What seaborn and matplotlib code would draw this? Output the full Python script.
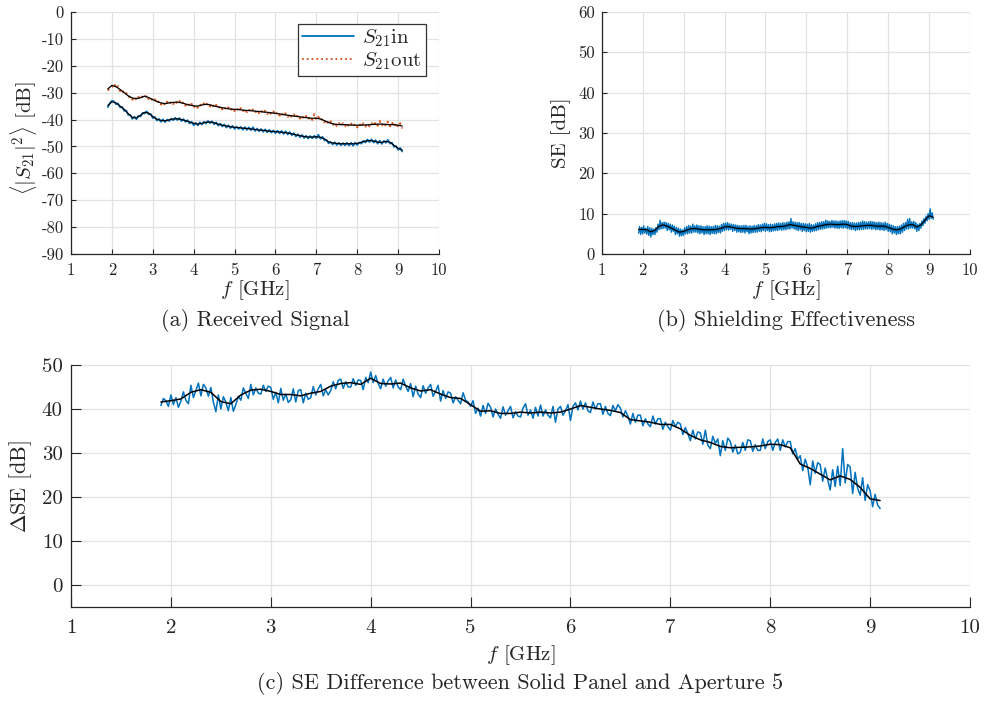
import numpy as np
import matplotlib
matplotlib.use("Agg")
import matplotlib.pyplot as plt
import seaborn as sns

# ---------------------------------------------------------------------------
# Measured data (frequency sweep 1.9 - 9.1 GHz)
# ---------------------------------------------------------------------------
F_START, F_STOP = 1.9, 9.1

X_TICKS = [1, 2, 3, 4, 5, 6, 7, 8, 9, 10]
X_TICK_LABELS = ["1", "2", "3", "4", "5", "6", "7", "8", "9", "10"]

A_Y_TICKS = [0, -10, -20, -30, -40, -50, -60, -70, -80, -90]
A_Y_TICK_LABELS = ["0", "-10", "-20", "-30", "-40", "-50", "-60", "-70", "-80", "-90"]
B_Y_TICKS = [0, 10, 20, 30, 40, 50, 60]
B_Y_TICK_LABELS = ["0", "10", "20", "30", "40", "50", "60"]
C_Y_TICKS = [0, 10, 20, 30, 40, 50]
C_Y_TICK_LABELS = ["0", "10", "20", "30", "40", "50"]

# <|S21|^2> inside the enclosure, raw sweep (dB)
s21_in_raw = [
    -35.4, -33.9, -33.0, -33.2, -34.3, -34.0, -35.5, -35.3, -36.8, -36.6,
    -38.3, -38.2, -39.8, -38.9, -39.9, -38.6, -38.9, -37.5, -37.8, -36.9,
    -38.1, -37.9, -39.5, -39.0, -40.4, -39.7, -40.9, -39.9, -41.0, -40.0,
    -40.6, -39.6, -40.3, -39.3, -40.2, -39.4, -40.6, -39.8, -40.9, -40.2,
    -41.5, -40.8, -42.2, -41.2, -42.2, -41.0, -41.9, -40.8, -41.5, -40.5,
    -41.4, -40.6, -41.8, -41.0, -42.3, -41.5, -42.6, -41.8, -43.0, -42.1,
    -43.2, -42.3, -43.5, -42.6, -43.5, -42.7, -43.8, -42.8, -43.9, -42.9,
    -44.0, -42.8, -44.3, -43.3, -44.4, -43.5, -44.6, -43.6, -44.8, -43.8,
    -44.9, -44.0, -45.1, -44.1, -45.2, -44.2, -45.4, -44.3, -45.6, -44.6,
    -45.9, -45.0, -46.3, -45.4, -46.6, -45.7, -46.9, -46.0, -47.1, -46.1,
    -47.0, -46.0, -47.0, -45.6, -47.2, -46.4, -47.8, -47.6, -48.9, -48.3,
    -49.3, -48.4, -49.5, -48.6, -49.6, -48.7, -49.6, -48.6, -49.7, -48.6,
    -49.8, -48.5, -49.5, -48.5, -49.0, -47.9, -48.6, -47.4, -48.4, -47.3,
    -48.6, -47.6, -49.0, -47.8, -49.1, -47.9, -48.7, -47.5, -49.0, -48.6,
    -50.2, -49.8, -51.3, -50.5, -51.9,
]

# <|S21|^2> outside the enclosure, raw sweep (dB)
s21_out_raw = [
    -29.2, -28.2, -27.9, -26.5, -28.4, -27.6, -29.4, -28.8, -30.6, -30.2,
    -31.8, -31.3, -32.6, -31.6, -32.8, -31.6, -32.4, -31.2, -31.9, -30.9,
    -32.4, -31.8, -33.2, -32.5, -33.9, -33.0, -34.4, -33.5, -34.7, -33.4,
    -34.4, -33.2, -34.2, -33.0, -34.1, -33.1, -34.4, -33.4, -34.8, -33.8,
    -35.2, -34.2, -35.6, -34.5, -35.6, -34.3, -35.2, -34.0, -34.9, -33.8,
    -35.1, -34.2, -35.6, -34.6, -35.9, -34.9, -36.2, -35.2, -36.5, -35.5,
    -36.7, -35.6, -36.8, -35.7, -36.9, -35.8, -37.1, -36.0, -37.2, -36.1,
    -37.3, -36.3, -37.5, -36.4, -37.6, -36.5, -37.8, -36.7, -37.9, -36.8,
    -38.1, -37.0, -38.3, -37.2, -38.5, -37.4, -38.8, -37.7, -39.0, -37.9,
    -39.2, -38.1, -39.4, -38.3, -39.6, -38.5, -39.8, -38.7, -40.0, -38.9,
    -40.1, -38.0, -40.1, -39.0, -40.4, -39.6, -41.0, -40.2, -41.7, -40.7,
    -42.2, -41.1, -42.4, -41.3, -42.5, -41.4, -42.5, -41.3, -42.6, -41.5,
    -42.7, -41.6, -42.9, -41.5, -42.7, -41.4, -42.6, -41.5, -42.5, -41.3,
    -42.4, -41.0, -42.3, -40.6, -42.3, -41.1, -42.4, -40.8, -42.5, -41.0,
    -42.6, -41.3, -42.8, -41.4, -43.3,
]

# smoothed received power (dB), 0.1 GHz steps
s21_in_smooth = [
    -34.8, -33.4, -33.8, -35.0, -36.2, -37.8, -39.2, -39.4, -38.4, -37.3,
    -37.6, -38.9, -39.9, -40.3, -40.5, -40.1, -39.8, -39.7, -40.0, -40.4,
    -40.9, -41.4, -41.7, -41.4, -41.0, -40.9, -41.2, -41.7, -42.1, -42.4,
    -42.7, -42.9, -43.0, -43.2, -43.3, -43.5, -43.7, -43.9, -44.0, -44.2,
    -44.4, -44.5, -44.6, -44.8, -45.0, -45.3, -45.7, -46.0, -46.3, -46.5,
    -46.5, -46.4, -46.6, -47.2, -48.3, -48.7, -48.9, -49.0, -49.0, -49.0,
    -49.0, -48.9, -48.4, -48.0, -47.8, -48.0, -48.4, -48.5, -48.1, -48.4,
    -49.6, -50.7, -51.4,
]
s21_out_smooth = [
    -28.6, -27.3, -27.8, -28.8, -30.0, -31.2, -32.0, -32.2, -31.9, -31.3,
    -31.8, -32.6, -33.3, -33.8, -34.1, -33.8, -33.6, -33.5, -33.8, -34.2,
    -34.6, -34.9, -35.0, -34.6, -34.3, -34.5, -35.0, -35.3, -35.6, -35.9,
    -36.1, -36.2, -36.3, -36.5, -36.6, -36.7, -36.9, -37.0, -37.2, -37.3,
    -37.5, -37.7, -37.9, -38.2, -38.4, -38.6, -38.8, -39.0, -39.2, -39.4,
    -39.5, -39.5, -39.8, -40.4, -41.1, -41.6, -41.8, -41.9, -41.9, -42.0,
    -42.1, -42.1, -42.1, -42.0, -41.9, -41.8, -41.7, -41.7, -41.8, -41.9,
    -41.9, -42.1, -42.4,
]

# shielding effectiveness, raw sweep (dB)
se_raw = [
    5.2, 6.8, 4.8, 6.6, 5.0, 7.0, 5.2, 6.4, 4.9, 6.8, 4.6, 6.5,
    4.2, 6.4, 4.8, 6.2, 4.8, 6.6, 5.4, 7.4, 6.0, 8.4, 6.2, 7.8,
    6.3, 7.9, 6.4, 7.8, 5.8, 7.6, 6.0, 7.4, 5.4, 7.2, 5.6, 6.9,
    4.8, 6.6, 5.0, 6.4, 4.4, 6.2, 4.5, 6.0, 4.6, 6.5, 5.0, 6.8,
    5.0, 7.1, 5.2, 6.9, 5.2, 7.4, 5.4, 7.0, 5.4, 7.2, 5.2, 7.0,
    5.0, 7.0, 5.2, 6.8, 4.8, 6.8, 5.0, 7.0, 5.0, 6.9, 4.8, 6.8,
    5.1, 6.8, 5.0, 7.1, 5.0, 7.0, 5.3, 6.9, 5.2, 7.3, 5.6, 7.6,
    5.8, 7.6, 6.0, 7.8, 5.9, 7.5, 6.1, 7.4, 5.6, 7.3, 5.8, 7.2,
    5.4, 7.1, 5.5, 7.0, 5.3, 7.0, 5.4, 7.1, 5.2, 7.1, 5.5, 6.9,
    5.0, 7.0, 5.2, 6.9, 5.3, 7.1, 5.4, 7.0, 5.4, 7.3, 5.6, 7.2,
    5.5, 7.4, 5.8, 7.6, 5.6, 7.5, 5.8, 7.3, 5.5, 7.4, 5.6, 7.3,
    5.7, 7.5, 5.8, 7.6, 5.8, 7.7, 6.0, 7.6, 5.9, 7.8, 6.0, 7.7,
    6.0, 7.9, 6.2, 8.0, 6.2, 8.8, 6.4, 8.0, 6.2, 7.9, 6.0, 7.8,
    5.8, 7.8, 6.0, 7.6, 5.6, 7.6, 5.8, 7.5, 5.5, 7.4, 5.6, 7.6,
    5.4, 7.3, 5.6, 7.2, 5.7, 7.5, 5.8, 7.8, 6.0, 7.8, 6.1, 8.0,
    6.2, 8.0, 6.3, 8.4, 6.4, 8.2, 6.5, 8.1, 6.5, 8.3, 6.6, 8.2,
    6.4, 8.2, 6.4, 8.1, 6.3, 8.2, 6.5, 8.3, 6.4, 8.3, 6.5, 8.2,
    6.3, 8.1, 6.2, 7.8, 6.0, 7.8, 6.1, 7.7, 5.8, 7.7, 6.0, 7.8,
    6.0, 7.9, 6.1, 8.2, 6.1, 8.0, 6.2, 7.9, 6.2, 8.0, 6.3, 8.1,
    6.1, 8.0, 6.2, 7.9, 6.0, 7.8, 6.1, 7.9, 5.9, 7.8, 6.0, 7.7,
    5.8, 7.9, 6.0, 7.6, 5.6, 7.4, 5.5, 7.2, 5.0, 7.0, 5.2, 6.8,
    4.8, 6.8, 5.0, 6.9, 5.0, 7.2, 5.4, 7.6, 5.8, 7.8, 6.2, 8.6,
    6.2, 8.8, 6.4, 8.0, 6.4, 8.1, 6.2, 7.8, 5.6, 7.4, 5.8, 7.6,
    6.4, 8.2, 7.0, 8.8, 7.6, 9.4, 8.2, 10.0, 8.6, 11.2, 8.8, 10.2,
    8.6,
]
se_smooth = [
    6.1, 6.1, 6.0, 5.5, 5.9, 6.9, 7.2, 6.9, 6.4, 5.9,
    5.4, 5.6, 6.0, 6.3, 6.3, 6.1, 6.0, 6.0, 6.0, 6.1,
    6.3, 6.7, 6.8, 6.6, 6.4, 6.3, 6.3, 6.2, 6.2, 6.4,
    6.5, 6.6, 6.5, 6.6, 6.8, 6.8, 7.0, 7.3, 7.1, 6.9,
    6.7, 6.6, 6.4, 6.6, 6.9, 7.1, 7.3, 7.4, 7.3, 7.3,
    7.4, 7.3, 6.9, 6.8, 6.9, 7.0, 7.1, 7.1, 6.9, 6.9,
    6.9, 6.6, 6.2, 6.0, 6.2, 6.8, 7.2, 7.3, 6.7, 7.2,
    8.4, 9.5, 9.1,
]

# SE difference, solid panel vs. aperture 5, raw sweep (dB)
dse_raw = [
    40.8, 42.4, 41.9, 40.6, 43.2, 41.0, 42.6, 40.4, 41.8, 43.9, 42.0, 41.2,
    45.4, 42.6, 44.2, 45.9, 43.0, 45.6, 44.8, 42.9, 44.9, 41.6, 39.4, 43.2,
    40.0, 42.8, 41.6, 39.6, 42.6, 39.5, 41.0, 42.9, 42.0, 44.8, 43.6, 42.4,
    45.6, 43.2, 44.8, 43.6, 43.4, 45.4, 44.0, 45.2, 44.9, 42.2, 43.8, 41.4,
    44.7, 42.0, 43.4, 41.5, 42.1, 44.6, 41.6, 44.2, 44.4, 41.4, 43.6, 42.2,
    42.6, 45.1, 43.2, 44.6, 45.6, 43.0, 44.4, 43.2, 44.2, 46.2, 44.6, 46.5,
    46.8, 44.7, 46.2, 45.0, 45.0, 46.9, 45.4, 46.6, 46.5, 44.4, 47.2, 46.0,
    48.4, 46.0, 47.6, 45.8, 44.6, 46.8, 45.2, 46.4, 47.2, 44.8, 46.6, 45.0,
    44.4, 46.8, 45.2, 44.0, 45.8, 42.8, 45.2, 43.4, 42.6, 45.3, 43.6, 44.8,
    45.6, 42.9, 44.0, 45.4, 41.8, 44.2, 42.4, 43.9, 43.6, 41.4, 42.8, 42.0,
    41.2, 43.7, 42.0, 41.6, 40.6, 41.9, 39.0, 40.2, 38.4, 40.8, 39.0, 41.3,
    40.4, 38.2, 40.0, 38.8, 37.9, 40.5, 38.6, 39.6, 40.6, 38.0, 39.4, 38.4,
    38.2, 40.2, 41.2, 38.6, 39.8, 37.9, 40.4, 38.4, 40.9, 38.4, 39.8, 38.6,
    38.0, 40.6, 37.0, 40.0, 40.6, 38.6, 39.6, 41.0, 37.4, 40.6, 41.4, 39.8,
    41.8, 40.0, 41.4, 39.6, 39.2, 41.6, 40.0, 41.2, 41.2, 38.8, 40.6, 39.0,
    38.5, 40.8, 39.6, 41.0, 40.2, 38.2, 39.6, 38.4, 36.6, 39.0, 37.0, 38.6,
    38.6, 36.2, 37.8, 36.6, 36.0, 38.4, 36.6, 37.8, 37.8, 35.4, 37.0, 36.0,
    35.2, 37.4, 36.0, 37.0, 36.6, 34.2, 35.8, 34.4, 32.8, 35.2, 33.2, 34.8,
    34.6, 32.0, 35.2, 31.8, 31.0, 33.8, 32.2, 33.2, 29.4, 32.8, 30.6, 33.4,
    32.6, 30.2, 31.8, 29.8, 30.2, 32.4, 30.6, 33.0, 32.8, 30.4, 31.9, 30.6,
    30.6, 33.2, 31.0, 32.6, 33.0, 30.6, 32.4, 33.2, 30.6, 33.0, 31.4, 32.6,
    32.6, 29.8, 31.0, 28.6, 29.4, 26.0, 28.6, 26.8, 22.8, 28.2, 25.4, 27.8,
    27.4, 23.6, 26.6, 24.0, 21.6, 26.2, 22.4, 27.0, 22.6, 31.0, 23.2, 27.4,
    26.8, 20.8, 25.6, 22.0, 20.4, 24.4, 19.2, 22.8, 21.4, 17.8, 20.6, 18.2,
    17.4,
]
dse_smooth = [
    41.6, 41.9, 42.3, 43.8, 44.4, 43.8, 41.7, 41.2, 43.2, 44.3,
    44.5, 44.0, 43.3, 43.3, 43.0, 43.6, 44.0, 45.2, 45.8, 46.0,
    45.6, 47.0, 45.8, 45.7, 45.9, 44.8, 44.1, 44.4, 43.4, 42.6,
    42.4, 41.0, 39.5, 39.6, 39.0, 39.0, 39.3, 39.1, 39.3, 39.1,
    39.3, 40.0, 40.8, 40.4, 40.0, 39.7, 39.2, 37.6, 37.3, 37.0,
    36.5, 36.5, 35.5, 34.0, 33.0, 32.4, 31.5, 31.2, 31.3, 31.4,
    31.6, 32.0, 31.9, 31.2, 27.5, 26.5, 25.2, 23.9, 24.8, 24.0,
    22.2, 19.6, 19.2,
]


def sweep(values):
    """Frequency axis (GHz) of a uniformly sampled sweep."""
    return np.linspace(F_START, F_STOP, len(values))


# ---------------------------------------------------------------------------
# Styling
# ---------------------------------------------------------------------------
sns.set_theme(style="whitegrid")
plt.rcParams.update({
    "font.family": "cmr10",
    "mathtext.fontset": "cm",
    "axes.unicode_minus": False,
    "axes.formatter.use_mathtext": True,
})

BLUE = "#0072BD"
ORANGE = "#D95319"
INK = "#262626"
GRID = "#e2e2e2"


def style_axes(ax, ylim, yticks, yticklabels, tick_len, tick_fs, xpad, ypad):
    ax.set_xlim(1, 10)
    ax.set_xticks(X_TICKS)
    ax.set_xticklabels(X_TICK_LABELS)
    ax.set_ylim(*ylim)
    ax.set_yticks(yticks)
    ax.set_yticklabels(yticklabels)
    ax.set_facecolor("white")
    ax.grid(True, color=GRID, linewidth=0.9)
    ax.set_axisbelow(True)
    for side in ("top", "right"):
        ax.spines[side].set_visible(False)
    for side in ("left", "bottom"):
        ax.spines[side].set_visible(True)
        ax.spines[side].set_color(INK)
        ax.spines[side].set_linewidth(0.9)
    ax.tick_params(axis="both", which="major", direction="in",
                   length=tick_len, width=0.8, color=INK, labelcolor=INK,
                   labelsize=tick_fs, left=True, bottom=True)
    ax.tick_params(axis="x", pad=xpad)
    ax.tick_params(axis="y", pad=ypad)


fig = plt.figure(figsize=(9.85, 7.02), dpi=100)
fig.patch.set_facecolor("white")
ax_a = fig.add_axes([0.0721, 0.6382, 0.3736, 0.3447])
ax_b = fig.add_axes([0.6109, 0.6382, 0.3739, 0.3447])
ax_c = fig.add_axes([0.0721, 0.1353, 0.9127, 0.3447])

# (a) received signal
sns.lineplot(x=sweep(s21_in_raw), y=s21_in_raw, ax=ax_a, color=BLUE,
             linewidth=1.2, label=r"$S_{21}$in")
sns.lineplot(x=sweep(s21_out_raw), y=s21_out_raw, ax=ax_a, color=ORANGE,
             linewidth=1.5, linestyle=":", label=r"$S_{21}$out")
sns.lineplot(x=sweep(s21_in_smooth), y=s21_in_smooth, ax=ax_a, color="black",
             linewidth=0.9, legend=False)
sns.lineplot(x=sweep(s21_out_smooth), y=s21_out_smooth, ax=ax_a, color="black",
             linewidth=0.9, legend=False)
style_axes(ax_a, (-90, 0), A_Y_TICKS, A_Y_TICK_LABELS, 3.5, 12, 6, 5)
handles = [ax_a.lines[0], ax_a.lines[1]]
leg = ax_a.legend(handles=handles, labels=[r"$S_{21}$in", r"$S_{21}$out"],
                  loc="upper right", bbox_to_anchor=(0.965, 0.952),
                  borderaxespad=0, fontsize=15, handlelength=2.5,
                  handletextpad=0.4, labelspacing=0.05, borderpad=0.2,
                  fancybox=False, framealpha=1, edgecolor="#333333")
leg.get_frame().set_linewidth(0.9)
for line in leg.get_lines():
    line.set_linewidth(1.3)
ax_a.set_xlabel(r"$f$ [GHz]", fontsize=15, color=INK)
ax_a.xaxis.set_label_coords(0.5, -0.149)
ax_a.xaxis.label.set_va("center")
ax_a.set_ylabel(r"$\langle|S_{21}|^2\rangle$ [dB]", fontsize=15, color=INK)
ax_a.yaxis.set_label_coords(-0.128, 0.48)
ax_a.yaxis.label.set_va("center")
ax_a.text(0.5, -0.273, "(a) Received Signal", transform=ax_a.transAxes,
          ha="center", va="center", fontsize=16, color=INK)

# (b) shielding effectiveness
sns.lineplot(x=sweep(se_raw), y=se_raw, ax=ax_b, color=BLUE, linewidth=1.0,
             legend=False)
sns.lineplot(x=sweep(se_smooth), y=se_smooth, ax=ax_b, color="black",
             linewidth=0.9, legend=False)
style_axes(ax_b, (0, 60), B_Y_TICKS, B_Y_TICK_LABELS, 3.5, 12, 6, 5)
ax_b.set_xlabel(r"$f$ [GHz]", fontsize=15, color=INK)
ax_b.xaxis.set_label_coords(0.5, -0.149)
ax_b.xaxis.label.set_va("center")
ax_b.set_ylabel("SE [dB]", fontsize=15, color=INK)
ax_b.yaxis.set_label_coords(-0.11, 0.5)
ax_b.yaxis.label.set_va("center")
ax_b.text(0.5, -0.273, "(b) Shielding Effectiveness", transform=ax_b.transAxes,
          ha="center", va="center", fontsize=16, color=INK)

# (c) SE difference
sns.lineplot(x=sweep(dse_raw), y=dse_raw, ax=ax_c, color=BLUE, linewidth=1.1,
             legend=False)
sns.lineplot(x=sweep(dse_smooth), y=dse_smooth, ax=ax_c, color="black",
             linewidth=1.1, legend=False)
style_axes(ax_c, (-5, 50), C_Y_TICKS, C_Y_TICK_LABELS, 7, 15, 9, 6)
ax_c.set_xlabel(r"$f$ [GHz]", fontsize=15, color=INK)
ax_c.xaxis.set_label_coords(0.5, -0.198)
ax_c.xaxis.label.set_va("center")
ax_c.set_ylabel(r"$\Delta$SE [dB]", fontsize=16, color=INK)
ax_c.yaxis.set_label_coords(-0.0556, 0.5)
ax_c.yaxis.label.set_va("center")
ax_c.text(0.5, -0.314, "(c) SE Difference between Solid Panel and Aperture 5",
          transform=ax_c.transAxes, ha="center", va="center", fontsize=16,
          color=INK)

fig.savefig("out.png", dpi=100, facecolor="white")
